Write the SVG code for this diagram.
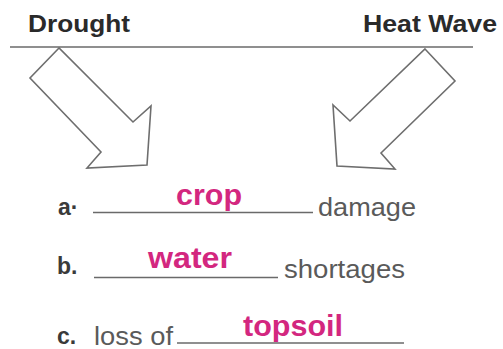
<svg xmlns="http://www.w3.org/2000/svg" width="503" height="349" viewBox="0 0 503 349">
  <style>
    .title { font-family: "Liberation Sans", Arial, sans-serif; font-weight: bold; font-size: 24px; fill: #2a2a2a; }
    .lbl { font-family: "Liberation Sans", Arial, sans-serif; font-weight: bold; font-size: 23px; fill: #3a3a3a; }
    .txt { font-family: "Liberation Sans", Arial, sans-serif; font-size: 26px; fill: #5a5a5a; }
    .ans { font-family: "Liberation Sans", Arial, sans-serif; font-weight: bold; font-size: 29px; fill: #d3277f; }
    .rule { stroke: #6a6a6a; stroke-width: 1.6; fill: none; }
    .arrow { stroke: #6e6e6e; stroke-width: 1.6; fill: #ffffff; stroke-linejoin: miter; }
  </style>
  <rect width="503" height="349" fill="#ffffff"/>

  <g id="drought">
    <text class="title" x="28" y="32" textLength="102" lengthAdjust="spacingAndGlyphs">Drought</text>
  </g>
  <g id="heat-wave">
    <text class="title" x="363" y="32" textLength="134" lengthAdjust="spacingAndGlyphs">Heat Wave</text>
  </g>

  <g id="connectors">
    <line class="rule" x1="10" y1="47" x2="473" y2="47"/>
    <polygon class="arrow" points="59,48 30,78 101,152 87,168 147,165 151,106 133,122"/>
    <polygon class="arrow" points="425,49 455,81 381,153 395,169 337,166 333,105 350,121"/>
  </g>

  <g id="item-a">
    <text class="lbl" x="58" y="215">a·</text>
    <line class="rule" x1="93" y1="212.5" x2="313" y2="212.5"/>
    <text class="ans" x="176" y="205" textLength="66" lengthAdjust="spacingAndGlyphs">crop</text>
    <text class="txt" x="318" y="216" textLength="98" lengthAdjust="spacingAndGlyphs">damage</text>
  </g>

  <g id="item-b">
    <text class="lbl" x="57" y="274">b.</text>
    <line class="rule" x1="94" y1="277.5" x2="278" y2="277.5"/>
    <text class="ans" x="148" y="268" textLength="84" lengthAdjust="spacingAndGlyphs">water</text>
    <text class="txt" x="284" y="277.5" textLength="121" lengthAdjust="spacingAndGlyphs">shortages</text>
  </g>

  <g id="item-c">
    <text class="lbl" x="57" y="344">c.</text>
    <text class="txt" x="94" y="344.5" textLength="79" lengthAdjust="spacingAndGlyphs">loss of</text>
    <line class="rule" x1="177" y1="343" x2="404" y2="343"/>
    <text class="ans" x="243" y="336" textLength="100" lengthAdjust="spacingAndGlyphs">topsoil</text>
  </g>
</svg>
